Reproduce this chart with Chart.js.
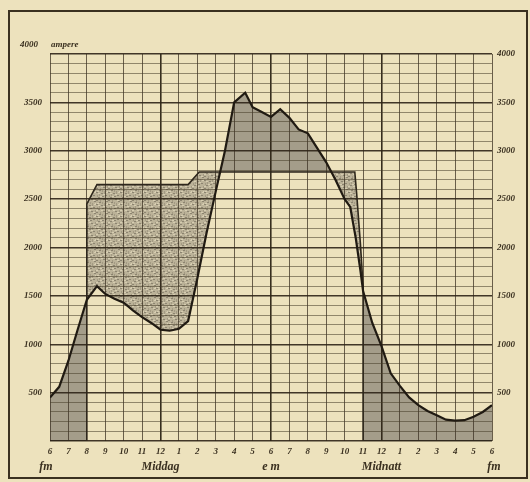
<!DOCTYPE html>
<html><head><meta charset="utf-8">
<script src="https://cdn.jsdelivr.net/npm/chart.js@4.4.1/dist/chart.umd.min.js"></script>
<style>
html,body{margin:0;padding:0;background:#ede2bd;}
#wrap{width:530px;height:482px;position:relative;}
</style></head><body>
<div id="wrap"><canvas id="c" width="530" height="482"></canvas></div>
<script>
// ---- data (hours from 6 fm = 6 to next 6 fm = 30; amperes) ----
const loadHours = [6, 6.5, 7, 7.5, 8, 8.55, 9, 9.5, 10, 10.5, 11, 11.5, 12, 12.5, 13, 13.5, 14, 14.5, 15, 15.5, 16, 16.6, 17, 17.5, 18, 18.5, 19, 19.5, 20, 20.5, 21, 21.5, 22, 22.3, 22.6, 22.85, 23, 23.5, 24, 24.5, 25, 25.5, 26, 26.5, 27, 27.5, 28, 28.5, 29, 29.5, 30];
const loadAmps  = [450, 560, 830, 1150, 1460, 1600, 1520, 1470, 1430, 1350, 1280, 1220, 1150, 1140, 1160, 1240, 1680, 2150, 2580, 3000, 3500, 3600, 3450, 3400, 3350, 3430, 3340, 3220, 3180, 3030, 2880, 2700, 2500, 2420, 2100, 1770, 1550, 1220, 980, 700, 570, 450, 370, 310, 265, 220, 210, 215, 250, 300, 370];
const supplyHours = [6, 8, 8, 8.55, 13.5, 14.1, 22.55, 22.65, 22.85, 23, 23, 30];
const supplyAmps  = [0, 0, 2450, 2650, 2650, 2780, 2780, 2560, 2050, 1600, 0, 0];
const xTickLabels = ['6','7','8','9','10','11','12','1','2','3','4','5','6','7','8','9','10','11','12','1','2','3','4','5','6'];
const periodLabels = ['fm','Middag','e m','Midnatt','fm'];
const periodHours = [6, 12, 18, 24, 30];
const yUnit = 'ampere';

const ink = '#3a3020';
const tickFont = {family:'Liberation Serif', style:'italic', weight:'bold', size:9};

// mottled stipple pattern for the hatched area (fixed tile)
const tile = document.createElement('canvas');
tile.width = 12; tile.height = 12;
const tc = tile.getContext('2d');
tc.fillStyle = '#bbb298'; tc.fillRect(0,0,12,12);
tc.fillStyle = '#8c8470';
[[0,0],[5,1],[9,3],[2,5],[7,7],[10,9],[3,10],[6,4],[0,8]].forEach(p=>tc.fillRect(p[0],p[1],2,1));
tc.fillStyle = '#a39a83';
[[3,2],[8,0],[1,3],[11,6],[4,8],[8,11],[6,10]].forEach(p=>tc.fillRect(p[0],p[1],1,2));
tc.fillStyle = '#d6cdb1';
[[2,1],[7,2],[10,0],[0,6],[5,6],[9,8],[1,11],[4,4],[11,11]].forEach(p=>tc.fillRect(p[0],p[1],2,1));
const hatch = document.getElementById('c').getContext('2d').createPattern(tile,'repeat');
const darkFill = '#a49d8a';

const paper = {
  id:'paper',
  afterDraw(chart){
    const ctx = chart.ctx;
    ctx.save();
    ctx.strokeStyle = ink; ctx.lineWidth = 2;
    ctx.strokeRect(9, 11, 518, 467);
    ctx.fillStyle = ink;
    ctx.font = 'italic bold 9px "Liberation Serif"';
    ctx.textBaseline = 'middle';
    ctx.textAlign = 'right';
    ctx.fillText('4000', 38, 45);
    ctx.textAlign = 'left';
    ctx.fillText(yUnit, 51, 45);
    ctx.font = 'italic bold 12px "Liberation Serif"';
    ctx.textAlign = 'center';
    const xs = chart.scales.x;
    periodLabels.forEach((t,i)=>{
      ctx.fillText(t, xs.getPixelForValue(periodHours[i]) - (i===0?4:(i===4?-2:0)), 467);
    });
    ctx.restore();
  }
};

new Chart(document.getElementById('c'), {
  type:'line',
  data:{datasets:[
    {data: loadHours.map((h,i)=>({x:h,y:loadAmps[i]})), borderColor:'#201a12', borderWidth:2.2,
     pointRadius:0, tension:0, yAxisID:'y', fill:{target:1, above:darkFill, below:hatch}},
    {data: supplyHours.map((h,i)=>({x:h,y:supplyAmps[i]})), borderColor:'#2e271c', borderWidth:1.6,
     pointRadius:0, tension:0, yAxisID:'y', fill:false}
  ]},
  options:{
    responsive:false, animation:false, devicePixelRatio:1,
    layout:{padding:{top:54, left:0, right:0, bottom:0}},
    plugins:{legend:{display:false}, tooltip:{enabled:false}, filler:{drawTime:'beforeDraw'}},
    scales:{
      x:{type:'linear', min:6, max:30, afterFit:s=>{s.height=41;},
         ticks:{stepSize:1, autoSkip:false, maxRotation:0, padding:5, font:tickFont, color:ink,
                callback:v=>xTickLabels[Math.round(v)-6]},
         grid:{drawTicks:false, color:c=>([12,18,24].includes(c.tick.value)?'rgba(45,36,22,0.95)':'rgba(60,50,35,0.75)'),
               lineWidth:c=>([12,18,24].includes(c.tick.value)?1.6:1)},
         border:{display:false}},
      y:{min:0, max:4000, position:'left', afterFit:s=>{s.width=50;},
         ticks:{stepSize:100, autoSkip:false, padding:8, font:tickFont, color:ink,
                callback:v=>(v%500===0 && v>0 && v<4000)?String(v):''},
         grid:{drawTicks:false, color:c=>(c.tick.value%500===0?'rgba(45,36,22,0.9)':'rgba(70,60,40,0.55)'),
               lineWidth:c=>(c.tick.value%500===0?1.5:1)},
         border:{display:false}},
      y2:{min:0, max:4000, position:'right', afterFit:s=>{s.width=38;},
         ticks:{stepSize:100, autoSkip:false, padding:5, font:tickFont, color:ink,
                callback:v=>(v%500===0 && v>0)?String(v):''},
         grid:{drawOnChartArea:false, drawTicks:false},
         border:{display:false}}
    }
  },
  plugins:[paper]
});
</script>
</body></html>
